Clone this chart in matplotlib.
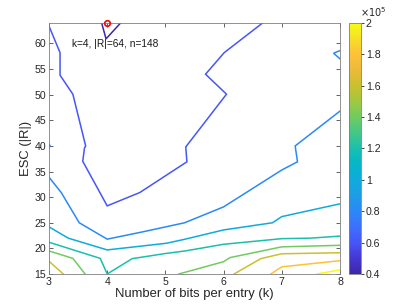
import numpy as np
import matplotlib
matplotlib.use('Agg')
import matplotlib.pyplot as plt
from matplotlib.colors import LinearSegmentedColormap, Normalize
from matplotlib.cm import ScalarMappable

plt.rcParams['font.family'] = ['Liberation Sans', 'DejaVu Sans']

# contour levels (table size)
LEVELS = [40000, 60000, 80000, 100000, 120000, 140000, 160000, 180000, 200000]
CBAR_TICKS = [40000, 60000, 80000, 100000, 120000, 140000, 160000, 180000, 200000]

# traced contour lines: k (bits per entry) and |R| values, one pair per piece
k_040 = [3.905, 3.98, 4.23]
r_040 = [64.0, 60.9, 64.0]

k_060 = [3.0, 3.19, 3.19, 3.41, 3.63, 3.61, 3.58, 4.0, 4.56, 5.37, 5.35, 6.05, 5.69, 6.01, 6.67]
r_060 = [63.4, 58.2, 53.8, 50.1, 40.0, 39.6, 37.0, 28.3, 30.9, 36.9, 39.8, 50.1, 54.0, 58.2, 64.0]

k_080 = [3.0, 3.21, 3.52, 4.0, 4.62, 5.33, 6.0, 7.0, 7.27, 7.23, 8.0]
r_080 = [33.9, 30.9, 25.0, 21.8, 23.25, 25.0, 28.1, 35.3, 36.9, 40.0, 46.8]
k_080_left = [3.0, 3.02, 3.0]
r_080_left = [40.4, 40.0, 39.6]
k_080_right = [8.0, 7.89, 8.0]
r_080_right = [58.6, 58.1, 57.0]

k_100 = [3.0, 3.33, 4.0, 5.02, 5.34, 6.0, 6.84, 7.0, 8.0]
r_100 = [24.2, 22.0, 19.7, 21.0, 21.8, 23.6, 25.0, 26.2, 28.7]

k_120 = [3.0, 3.88, 4.0, 4.43, 5.0, 5.34, 6.0, 7.0, 7.5, 8.0]
r_120 = [21.2, 18.05, 15.0, 18.0, 19.0, 19.5, 20.8, 21.9, 22.0, 22.4]

k_140_left = [3.0, 3.41, 3.62]
r_140_left = [19.5, 18.05, 15.0]
k_140_right = [5.23, 6.0, 6.11, 7.0, 8.0]
r_140_right = [15.0, 17.4, 18.2, 20.3, 20.6]

k_160_left = [3.0, 3.245]
r_160_left = [17.5, 15.0]
k_160_right = [6.18, 6.64, 7.0, 8.0]
r_160_right = [15.0, 18.0, 18.95, 19.15]

k_180 = [6.81, 7.0, 8.0]
r_180 = [15.0, 16.4, 17.6]

k_200 = [7.6, 8.0]
r_200 = [15.0, 15.8]

# optimum
OPT_K = 4
OPT_R = 64
OPT_N = 148

pieces = [
    (40000, k_040, r_040),
    (60000, k_060, r_060),
    (80000, k_080, r_080),
    (80000, k_080_left, r_080_left),
    (80000, k_080_right, r_080_right),
    (100000, k_100, r_100),
    (120000, k_120, r_120),
    (140000, k_140_left, r_140_left),
    (140000, k_140_right, r_140_right),
    (160000, k_160_left, r_160_left),
    (160000, k_160_right, r_160_right),
    (180000, k_180, r_180),
    (200000, k_200, r_200),
]

# parula-like colormap
parula_pts = [
    (0.000, (0.2422, 0.1504, 0.6603)),
    (0.0625, (0.2700, 0.2200, 0.8300)),
    (0.125, (0.2780, 0.3356, 0.9733)),
    (0.1875, (0.2350, 0.4400, 0.9950)),
    (0.250, (0.1660, 0.5400, 0.9600)),
    (0.3125, (0.1160, 0.6150, 0.9000)),
    (0.375, (0.0600, 0.6700, 0.8600)),
    (0.4375, (0.0250, 0.7150, 0.7800)),
    (0.500, (0.1000, 0.7500, 0.6800)),
    (0.5625, (0.2600, 0.7800, 0.5300)),
    (0.625, (0.4400, 0.7950, 0.3800)),
    (0.6875, (0.6300, 0.7850, 0.2500)),
    (0.750, (0.7900, 0.7550, 0.1800)),
    (0.8125, (0.9200, 0.7300, 0.2300)),
    (0.875, (0.9950, 0.7600, 0.2200)),
    (0.9375, (0.9600, 0.8700, 0.1600)),
    (1.000, (0.9769, 0.9839, 0.0805)),
]
parula = LinearSegmentedColormap.from_list('parula', parula_pts)
norm = Normalize(vmin=min(LEVELS), vmax=max(LEVELS))

fig = plt.figure(figsize=(4.11, 3.08), dpi=100)
ax = fig.add_axes([0.1192, 0.1104, 0.708, 0.815])
cax = fig.add_axes([0.849, 0.1104, 0.0292, 0.815])

text_col = '0.15'

for level, ks, rs in pieces:
    ax.plot(ks, rs, color=parula(norm(level)), lw=1.1, solid_joinstyle='miter')

ax.plot(OPT_K, OPT_R, 'o', mfc='none', mec='red', ms=4, mew=1.2, clip_on=False, zorder=5)
ax.text(OPT_K - 0.6, OPT_R - 4.1, 'k=%d, |R|=%d, n=%d' % (OPT_K, OPT_R, OPT_N),
        fontsize=7.3, color='0.1', ha='left', va='center')

ax.set_xlim(3, 8)
ax.set_ylim(15, 64)
ax.set_xticks(np.arange(3, 9, 1))
ax.set_yticks(np.arange(15, 61, 5))
ax.tick_params(direction='in', length=3, width=0.5, top=True, right=True,
               labelsize=7.6, colors=text_col, pad=2)
for s in ax.spines.values():
    s.set_color('0.5')
    s.set_linewidth(0.6)
ax.set_xlabel('Number of bits per entry (k)', fontsize=9.4, color=text_col, labelpad=1)
ax.set_ylabel('ESC (|R|)', fontsize=9.4, color=text_col, labelpad=2)

# colorbar
sm = ScalarMappable(norm=norm, cmap=parula)
cb = fig.colorbar(sm, cax=cax)
cb.set_ticks(CBAR_TICKS)
cb.set_ticklabels(['%g' % (t / 1e5) for t in CBAR_TICKS])
cb.outline.set_edgecolor('0.5')
cb.outline.set_linewidth(0.6)
cax.tick_params(direction='out', length=2.5, width=0.6, labelsize=7.6, colors=text_col, pad=1)
cax.text(0.9, 1.015, r'$\times10^5$', transform=cax.transAxes, fontsize=7,
         color=text_col, ha='left', va='bottom')

fig.savefig('out.png', dpi=100)
